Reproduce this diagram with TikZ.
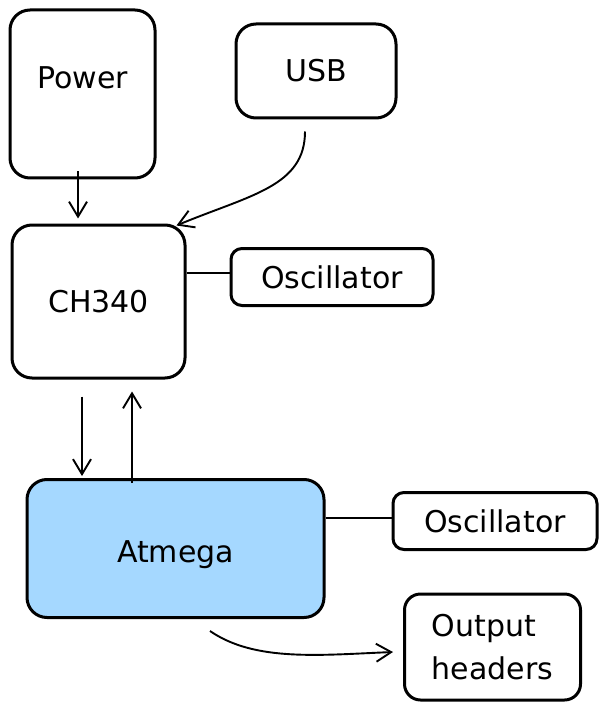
\documentclass[tikz,border=0pt]{standalone}
\usepackage{fontspec}
\setmainfont{DejaVu Sans}
\usetikzlibrary{arrows.meta}
\definecolor{chipblue}{HTML}{A5D8FF}
\tikzset{
  box/.style={draw, line width=3pt, rounded corners=20pt, inner sep=0pt,
    font=\fontsize{30}{43}\selectfont},
  smallbox/.style={box, rounded corners=11pt},
  arr/.style={line width=1.9pt, -{Straight Barb[length=15pt,width=18pt,line width=1.9pt]}},
  link/.style={line width=1.9pt}
}
\begin{document}
\begin{tikzpicture}[x=1pt,y=-1pt]
\useasboundingbox (0,0) rectangle (607,711);

% Bloques
\node[box, minimum width=145pt, minimum height=168pt,
  label={[font=\fontsize{30}{43}\selectfont, yshift=16pt]center:Power}] (power) at (82.5,94) {};
\node[box, minimum width=160pt, minimum height=94pt] (usb) at (316,71) {USB};
\node[box, minimum width=173pt, minimum height=153pt] (ch) at (98.5,301.5) {CH340};
\node[smallbox, minimum width=202pt, minimum height=57pt] (osca) at (332,277) {Oscillator};
\node[box, fill=chipblue, minimum width=297pt, minimum height=138pt,
  label={[font=\fontsize{30}{43}\selectfont, yshift=-6pt]center:Atmega}] (mcu) at (175.5,548.5) {};
\node[smallbox, minimum width=204pt, minimum height=57pt] (oscb) at (495,521) {Oscillator};
\node[box, rounded corners=16pt, minimum width=176pt, minimum height=106pt, align=left] (out) at (492.5,647) {Output\\headers};

% Flechas
\draw[arr] ([xshift=-4.5pt,yshift=8pt]power.south) -- ([xshift=-4.5pt,yshift=5pt]power.south |- ch.north);
\draw[arr] ([xshift=-11pt,yshift=-12pt]usb.south) .. controls +(0,55) and (250,195) .. ([xshift=-10pt,yshift=-2pt]ch.north east);
\draw[arr] ([xshift=-16.5pt,yshift=-17pt]ch.south) -- ([xshift=-16.5pt,yshift=2pt]ch.south |- mcu.north);
\draw[arr] ([xshift=-43.5pt,yshift=-5pt]mcu.north) -- ([xshift=-43.5pt,yshift=-12pt]mcu.north |- ch.south);
\draw[arr] ([xshift=34.5pt,yshift=-12pt]mcu.south) .. controls (255,662) and (320,655) .. ([xshift=-10pt,yshift=-5pt]out.west);

% Enlaces
\draw[link] ([yshift=4pt]osca.west -| ch.east) -- ([yshift=4pt]osca.west);
\draw[link] ([yshift=3pt]oscb.west -| mcu.east) -- ([yshift=3pt]oscb.west);
\end{tikzpicture}
\end{document}
